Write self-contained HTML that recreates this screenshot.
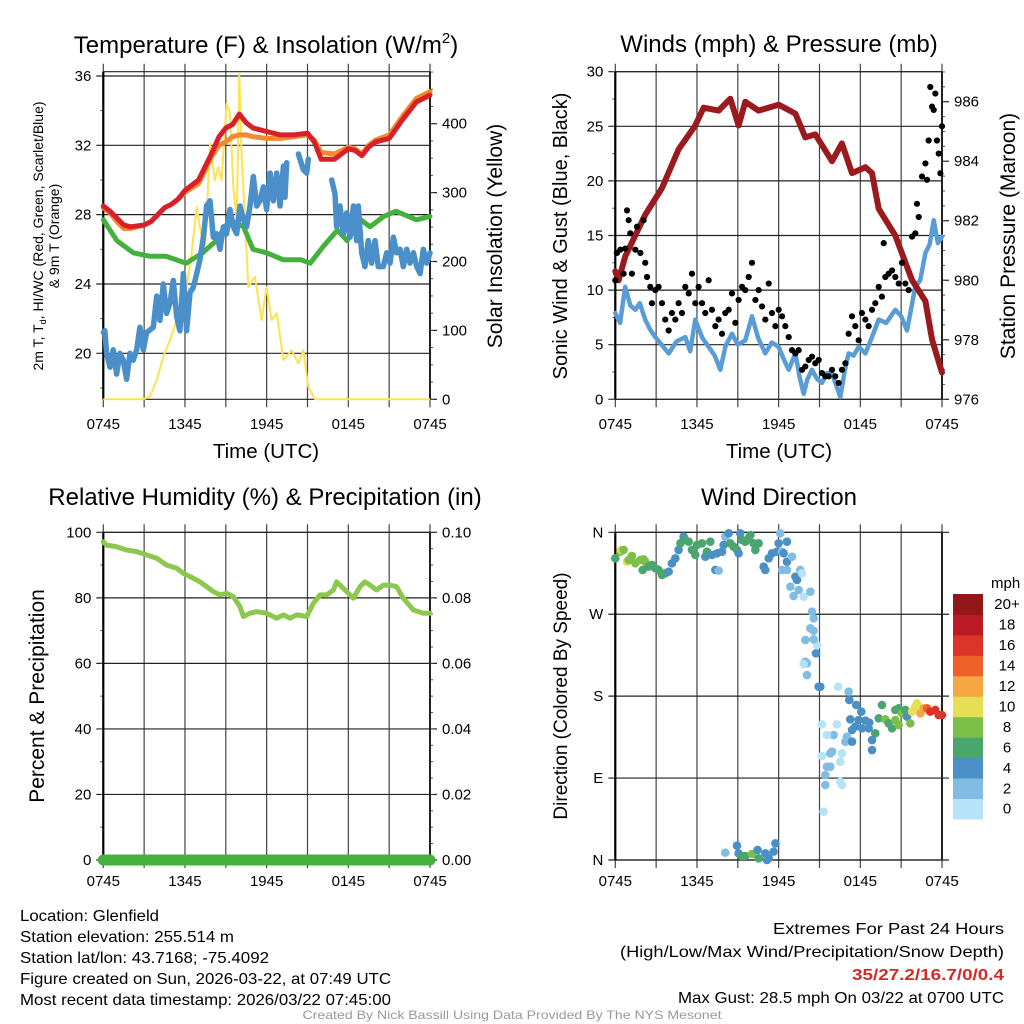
<!DOCTYPE html>
<html><head><meta charset="utf-8"><title>Mesonet Station Meteogram</title>
<style>html,body{margin:0;padding:0;background:#fff;}svg{display:block;font-family:"Liberation Sans",Arial,sans-serif;}</style>
</head><body>
<svg id="chart" width="1024" height="1024" viewBox="0 0 1024 1024" xmlns="http://www.w3.org/2000/svg">
<rect x="0" y="0" width="1024" height="1024" fill="#fff"/>
<text x="266" y="53" font-size="24" text-anchor="middle">Temperature (F) &amp; Insolation (W/m<tspan font-size="15" dy="-10">2</tspan><tspan dy="10">)</tspan></text>
<text x="779" y="52" font-size="24" text-anchor="middle">Winds (mph) &amp; Pressure (mb)</text>
<text x="265" y="505" font-size="24" text-anchor="middle">Relative Humidity (%) &amp; Precipitation (in)</text>
<text x="779" y="505" font-size="24" text-anchor="middle">Wind Direction</text>
<text x="266" y="458" font-size="20.5" text-anchor="middle">Time (UTC)</text>
<text x="779" y="458" font-size="20.5" text-anchor="middle">Time (UTC)</text>
<text transform="translate(43,236) rotate(-90)" font-size="14" text-anchor="middle">2m T, T<tspan font-size="9" dy="3">d</tspan><tspan dy="-3">, HI/WC (Red, Green, Scarlet/Blue)</tspan></text>
<text transform="translate(59,236) rotate(-90)" font-size="14" text-anchor="middle">&amp; 9m T (Orange)</text>
<text transform="translate(502,236) rotate(-90)" font-size="21" text-anchor="middle">Solar Insolation (Yellow)</text>
<text transform="translate(567,236) rotate(-90)" font-size="20" text-anchor="middle">Sonic Wind &amp; Gust (Blue, Black)</text>
<text transform="translate(1015,236) rotate(-90)" font-size="21" text-anchor="middle">Station Pressure (Maroon)</text>
<text transform="translate(44,696) rotate(-90)" font-size="21" text-anchor="middle">Percent &amp; Precipitation</text>
<text transform="translate(567,696) rotate(-90)" font-size="19" text-anchor="middle">Direction (Colored By Speed)</text>
<g font-size="16">
<text x="20" y="921" textLength="139" lengthAdjust="spacingAndGlyphs">Location: Glenfield</text>
<text x="20" y="942" textLength="214" lengthAdjust="spacingAndGlyphs">Station elevation: 255.514 m</text>
<text x="20" y="963" textLength="249" lengthAdjust="spacingAndGlyphs">Station lat/lon: 43.7168; -75.4092</text>
<text x="20" y="984" textLength="371" lengthAdjust="spacingAndGlyphs">Figure created on Sun, 2026-03-22, at 07:49 UTC</text>
<text x="20" y="1005" textLength="371" lengthAdjust="spacingAndGlyphs">Most recent data timestamp: 2026/03/22 07:45:00</text>
</g>
<g font-size="16" text-anchor="end">
<text x="1004" y="934" textLength="231" lengthAdjust="spacingAndGlyphs">Extremes For Past 24 Hours</text>
<text x="1004" y="957" textLength="384" lengthAdjust="spacingAndGlyphs">(High/Low/Max Wind/Precipitation/Snow Depth)</text>
<text x="1004" y="980" textLength="152" lengthAdjust="spacingAndGlyphs" font-weight="bold" fill="#d42a2a">35/27.2/16.7/0/0.4</text>
<text x="1004" y="1003" textLength="326" lengthAdjust="spacingAndGlyphs">Max Gust: 28.5 mph On 03/22 at 0700 UTC</text>
</g>
<text x="512" y="1019" font-size="12" fill="#999" text-anchor="middle" textLength="419" lengthAdjust="spacingAndGlyphs">Created By Nick Bassill Using Data Provided By The NYS Mesonet</text>
</svg>
<script>
// ---- shared axis data ----
const timeTickHours = [0, 6, 12, 18, 24];
const timeTickLabels = ["0745", "1345", "1945", "0145", "0745"];
const timeGridHours = [0, 3, 6, 9, 12, 15, 18, 21, 24];

// ---- panel 1: temperature & insolation ----
const tempTicks = [20, 24, 28, 32, 36];
const solarTicks = [0, 100, 200, 300, 400];
const redHours = [0,0.5,1,1.5,2,3,3.5,4,4.5,5,5.5,6,7,7.5,8,8.5,9,9.5,10,10.5,11,12,13,14,15,15.5,16,17,18,18.5,19,19.5,20,21,22,23,24];
const redTemp = [28.5,28.2,27.8,27.4,27.3,27.4,27.6,28.0,28.4,28.6,28.9,29.4,30.0,30.8,31.6,32.5,33.0,33.2,33.8,33.3,33.0,32.8,32.6,32.6,32.7,32.2,31.2,31.2,31.8,31.7,31.4,31.9,32.2,32.4,33.5,34.5,34.9];
const orangeTemp = [28.4,28.1,27.6,27.2,27.2,27.4,27.6,28.0,28.4,28.6,28.9,29.3,29.8,30.6,31.4,32.0,32.2,32.5,32.6,32.6,32.5,32.4,32.4,32.5,32.6,32.3,31.6,31.5,31.9,31.8,31.5,32.0,32.3,32.6,33.7,34.7,35.1];
const greenHours = [0,1,2.2,3.4,4.6,6.1,7.3,8.3,9.3,10.3,11,12,13.2,14.5,15.2,16.2,17.2,17.9,18.9,19.6,20.6,21.5,23,24];
const greenTemp = [27.7,26.5,25.8,25.6,25.6,25.2,25.8,26.5,27.7,27.3,26.0,25.8,25.4,25.4,25.2,26.2,27.1,26.5,27.7,27.3,27.9,28.2,27.7,27.9];
const blueHours = [0,0.12,0.24,0.49,0.73,0.98,1.22,1.47,1.71,1.96,2.2,2.45,2.69,2.94,3.18,3.67,3.92,4.16,4.41,4.65,4.9,5.14,5.39,5.63,5.88,6.12,6.37,6.61,6.86,7.1,7.35,7.59,7.84,8.08,8.33,8.57,8.82,9.06,9.31,9.55,9.8,10.04,10.29,10.53,10.78,11.02,11.27,11.51,11.76,12.0,12.25,12.49,12.74,12.98,13.23,13.35,13.47,13.8,14.33,14.69,14.94,15.06,15.5,16.78,17.02,17.14,17.39,17.63,17.88,18.12,18.37,18.61,18.73,18.98,19.22,19.47,19.71,19.96,20.2,20.57,20.82,21.06,21.31,21.55,21.8,22.04,22.29,22.53,22.78,23.02,23.27,23.51,23.76,24];
const blueTemp = [21.2,21.3,20.0,19.2,20.2,18.8,20.0,19.6,18.5,20.0,19.6,20.2,21.5,20.2,21.2,21.5,23.3,21.9,24.0,22.3,22.9,24.2,22.1,21.3,24.6,21.3,23.5,23.8,24.6,25.4,26.7,28.5,28.8,26.7,26.9,26.0,27.3,26.9,28.3,27.3,26.9,28.5,27.7,27.3,28.5,30.2,28.5,28.8,29.6,28.3,30.4,28.8,30.4,28.5,30.8,29.0,31.0,NaN,31.5,30.6,30.4,31.2,NaN,30.0,29.2,27.3,28.5,26.9,28.1,26.7,28.5,26.5,28.5,25.8,25.0,26.5,25.2,26.5,25.0,25.0,25.8,25.2,26.7,25.8,26.0,25.0,26.0,25.2,25.8,25.0,24.6,26.0,25.2,25.8];
const solarHours = [0,2.94,3.43,3.92,4.41,4.9,5.39,6.0,6.49,6.86,7.1,7.47,7.84,8.2,8.45,8.69,9.06,9.31,9.55,9.8,9.99,10.16,10.41,10.65,11.14,11.63,12.0,12.37,12.74,13.23,13.84,14.33,14.69,15.06,15.55,24];
const solarWm2 = [0,0,4,28,62,86,115,149,212,279,250,212,371,318,337,318,429,414,308,260,472,356,260,163,178,115,163,115,125,57,71,52,71,18,0,0];

// ---- panel 2: winds & pressure ----
const windTicks = [0, 5, 10, 15, 20, 25, 30];
const pressureTicks = [976, 978, 980, 982, 984, 986];
const pressureHours = [0,0.24,0.73,2.2,3.43,4.65,5.88,6.49,7.59,8.45,9.06,9.55,10.53,12.0,13.23,13.96,14.69,15.92,16.65,17.39,18.37,18.86,19.35,20.57,21.8,22.78,23.27,24];
const pressureMb = [980.3,980.0,980.8,982.2,983.1,984.4,985.2,985.8,985.7,986.1,985.2,986.0,985.7,985.9,985.6,984.8,984.9,984.0,984.6,983.6,983.8,983.6,982.4,981.5,980.0,979.3,978.0,976.9];
const windHours = [0,0.35,0.73,1.1,1.47,1.8,2.2,2.55,2.94,3.4,3.92,4.5,5.14,5.5,5.88,6.4,6.86,7.3,7.71,8.1,8.57,9.0,9.55,10.04,10.5,11.02,11.5,12.0,12.4,12.74,13.23,13.55,13.84,14.1,14.45,14.8,15.18,15.55,15.92,16.25,16.53,16.85,17.14,17.5,17.88,18.37,18.86,19.35,19.9,20.57,21.0,21.43,22.04,22.4,22.78,23.1,23.39,23.7,24];
const windMph = [7.9,7.0,10.3,8.6,8.2,8.8,7.3,6.4,5.7,5.0,4.2,5.3,5.7,4.4,7.3,5.6,4.8,4.0,2.7,4.9,6.0,5.0,5.4,7.6,5.6,4.2,5.2,4.8,3.6,2.7,4.2,2.0,0.5,1.8,2.7,1.9,1.5,2.4,2.4,1.2,0.2,2.6,4.2,4.0,4.8,4.2,5.7,7.3,7.0,8.2,7.6,6.3,10.3,10.9,13.4,14.2,16.4,14.3,14.9];
const gustHours = [0,0.12,0.37,0.61,0.73,0.86,0.98,1.1,1.22,1.47,1.59,1.84,2.08,2.2,2.33,2.57,2.69,2.94,3.18,3.43,3.67,3.92,4.16,4.41,4.65,4.9,5.14,5.39,5.63,5.88,6.12,6.37,6.61,6.86,7.1,7.35,7.59,7.84,8.08,8.33,8.57,8.82,9.06,9.31,9.55,9.8,10.04,10.29,10.53,10.78,11.02,11.27,11.51,11.76,12.0,12.25,12.49,12.74,12.98,13.23,13.47,13.72,13.96,14.21,14.45,14.69,14.94,15.18,15.43,15.67,15.92,16.16,16.41,16.65,16.9,17.14,17.39,17.63,17.88,18.12,18.37,18.61,18.86,19.1,19.35,19.59,19.72,19.84,20.08,20.33,20.57,20.82,21.06,21.31,21.55,21.8,22.04,22.16,22.29,22.53,22.78,22.9,23.02,23.14,23.27,23.39,23.51,23.63,23.76,23.88,24];
const gustMph = [10.9,13.4,13.7,11.5,13.8,17.3,16.4,15.2,11.5,13.7,15.8,13.4,16.4,12.5,11.2,10.3,8.8,10.0,10.3,8.8,7.3,6.3,7.9,7.3,8.8,7.9,10.3,9.7,11.5,8.8,10.3,8.8,7.9,10.9,8.2,6.7,7.3,6.0,7.9,8.2,9.7,7.0,9.1,10.3,10.0,11.2,12.5,9.1,10.0,8.5,7.3,10.6,7.9,6.7,8.2,7.6,6.7,5.7,4.5,4.2,4.5,2.7,3.0,3.6,3.9,3.3,3.6,2.4,2.1,2.1,2.7,2.1,1.5,2.7,3.3,6.0,7.6,6.7,5.4,7.9,7.3,6.7,8.2,8.8,10.3,9.4,14.3,11.2,11.5,11.8,11.2,10.6,12.5,10.6,10.0,14.9,15.2,17.9,16.7,20.4,21.6,20.1,23.7,28.6,26.8,26.5,28.0,23.7,22.5,20.7,25.0];

// ---- panel 3: humidity & precipitation ----
const rhTicks = [0, 20, 40, 60, 80, 100];
const precipTicks = ["0.00", "0.02", "0.04", "0.06", "0.08", "0.10"];
const rhHours = [0,0.24,0.98,1.71,2.45,3.18,3.92,4.65,5.39,5.88,6.37,7.1,7.59,8.08,8.57,9.06,9.55,10.04,10.29,10.78,11.27,12.0,12.74,13.23,13.72,14.21,14.94,15.43,15.92,16.41,16.9,17.14,17.63,18.12,18.37,18.86,19.22,19.59,20.08,20.57,21.06,21.55,22.04,22.78,23.51,24];
const rhPct = [97.1,96.1,95.6,94.6,94.1,93.1,92.1,90.0,89.0,87.5,86.5,84.9,83.4,81.9,80.9,81.4,80.4,77.3,74.3,75.3,75.8,75.3,73.8,74.8,73.8,74.8,74.3,78.3,80.9,80.9,82.4,84.9,82.9,80.9,79.9,83.4,84.9,83.9,82.4,83.9,83.9,83.4,79.9,76.3,75.3,75.3];
const precipHours = [0, 24];
const precipIn = [0, 0];

// ---- panel 4: wind direction ----
const dirTickDeg = [0, 90, 180, 270, 360];
const dirTickLabels = ["N", "E", "S", "W", "N"];
const dirHours = [0,0.37,0.44,0.61,0.86,0.98,1.22,1.47,1.84,2.08,2.2,2.01,2.45,2.69,2.94,3.18,3.43,3.67,3.92,4.16,4.41,4.65,4.78,5.02,5.14,5.39,5.63,5.88,6.0,6.37,6.61,6.73,6.98,7.1,7.35,7.59,7.47,7.84,7.96,8.08,8.33,8.45,8.69,8.94,9.06,9.18,9.31,9.55,9.8,9.92,10.16,10.29,10.53,10.9,11.02,11.27,11.51,11.88,12.0,12.12,12.25,12.37,12.61,12.61,12.25,12.61,12.98,13.23,13.35,13.59,13.72,12.86,13.1,13.47,13.84,14.33,14.45,14.57,14.33,14.57,14.82,13.96,14.57,14.74,13.96,14.08,13.84,14.08,14.94,15.06,16.36,17.14,17.19,17.7,18.07,17.26,17.88,18.37,18.66,17.63,18.12,18.61,17.39,17.02,16.9,17.39,18.86,18.86,19.1,19.35,19.59,19.84,20.08,20.33,20.57,20.82,20.57,20.82,21.06,21.31,21.43,21.67,21.8,22.04,22.16,22.41,22.65,22.9,23.14,23.51,23.76,24,15.18,16.28,16.04,15.55,15.18,15.79,15.92,16.65,16.53,15.55,15.79,15.43,15.43,16.53,16.65,15.3,8.08,8.94,9.06,9.31,9.55,10.04,10.45,10.53,11.02,11.27,11.63,11.76,11.14];
const dirDeg = [331.4,338.7,340.6,340.6,327.7,329.6,334.0,325.9,329.6,330.3,327.7,318.6,322.3,324.1,320.4,318.6,313.1,314.9,316.8,325.9,331.4,340.6,347.9,355.2,351.6,349.7,340.6,335.1,346.1,347.9,333.2,338.7,349.7,335.1,318.6,317.9,336.9,338.7,346.1,355.2,358.9,347.9,344.2,340.6,336.9,358.9,351.6,349.7,353.4,357.0,347.9,340.6,347.9,322.3,318.6,331.4,336.9,338.7,347.9,358.9,338.7,336.9,349.7,327.7,318.6,318.6,333.2,311.3,307.6,318.6,314.9,300.3,290.0,296.6,289.3,294.8,272.8,265.5,254.5,251.9,236.2,241.7,242.4,227.0,217.9,216.1,215.3,203.2,190.4,190.4,190.4,184.9,175.8,170.3,163.0,154.5,153.8,153.1,150.9,146.5,144.6,144.6,142.8,135.5,130.0,130.0,131.8,120.8,139.2,155.6,170.3,154.5,150.1,144.6,153.8,148.3,164.8,166.6,161.1,164.8,157.5,150.1,163.0,168.5,172.1,161.1,166.6,166.6,163.0,164.8,159.3,159.3,149.0,149.0,137.3,137.3,114.3,117.2,119.0,117.2,108.0,102.5,102.5,93.4,82.4,86.1,82.4,53.1,8.1,15.7,7.3,4.4,4.4,6.6,11.0,1.8,7.3,1.8,9.2,18.3,0];
const dirSpeed = [7,9,10.5,9,10.5,9,9,9,9,9,9,7,7,7,7,7,7,7,5,5,5,5,7,5,7,7,7,7,7,7,5,7,7,5,5,3,5,5,5,3,5,7,7,7,5,5,7,7,7,7,7,7,7,5,5,5,5,5,5,3,3,5,5,5,3,3,3,5,5,3,1,3,3,3,1,3,3,3,3,3,1,3,3,5,3,3,1,3,5,5,1,3,5,5,5,5,5,5,5,5,5,5,5,3,3,5,5,5,7,7,7,9,7,7,9,9,7,7,9,7,5,9,11,11,11,13,13,15,17,17,17,17,1,1,3,1,1,3,3,1,1,3,3,3,3,1,1,1,3,5,5,7,7,9,5,7,5,5,5,5,5];
const speedBinLabels = ["0", "2", "4", "6", "8", "10", "12", "14", "16", "18", "20+"];
const speedColors = ["#b5e3f8", "#80bce4", "#4a8fc5", "#4aa56f", "#7cc04a", "#e6de55", "#f6a543", "#ee6128", "#dd3429", "#bb1b25", "#931719"];

// ---- helpers ----
const NS = "http://www.w3.org/2000/svg";
const svg = document.getElementById("chart");
function mk(tag, attrs, parent) {
  const e = document.createElementNS(NS, tag);
  for (const k in attrs) e.setAttribute(k, attrs[k]);
  (parent || svg).appendChild(e);
  return e;
}
function linScale(d0, d1, r0, r1) { return v => r0 + (v - d0) * (r1 - r0) / (d1 - d0); }
function pathFrom(xs, ys, sx, sy) {
  let d = "", pen = false;
  for (let i = 0; i < xs.length; i++) {
    if (isNaN(ys[i])) { pen = false; continue; }
    d += (pen ? "L" : "M") + sx(xs[i]).toFixed(1) + "," + sy(ys[i]).toFixed(1);
    pen = true;
  }
  return d;
}

function frame(name, L, R, T, B, sx, leftTicks, leftLabels, sl, leftMinor, rightTicks, rightLabels, sr, rightMinor, xlabelY) {
  const g = mk("g", {});
  
  
  timeGridHours.forEach(h => {
    const x = sx(h);
    const ln = mk("line", {x1: x, x2: x, y1: T - 8, y2: B + 8, stroke: "#444", "stroke-width": 1.2}, g);
    
    
  });
  leftTicks.forEach((v, i) => {
    const y = sl(v);
    const ln = mk("line", {x1: L - 7, x2: R + (rightTicks ? 0 : 7), y1: y, y2: y, stroke: "#222", "stroke-width": 1.2}, g);
    
    
    const t = mk("text", {x: L - 12, y: y + 5, "font-size": 15, "text-anchor": "end"}, g);
    t.textContent = leftLabels[i];
    
    
  });
  leftMinor.forEach(v => {
    const y = sl(v);
    mk("line", {x1: L - 3, x2: L, y1: y, y2: y, stroke: "#555", "stroke-width": 1}, g);
  });
  if (rightTicks) {
    rightTicks.forEach((v, i) => {
      const y = sr(v);
      mk("line", {x1: R, x2: R + 7, y1: y, y2: y, stroke: "#222", "stroke-width": 1.2}, g);
      const t = mk("text", {x: R + 12, y: y + 5, "font-size": 15}, g);
      t.textContent = rightLabels[i];
      
      
    });
    rightMinor.forEach(v => {
      const y = sr(v);
      mk("line", {x1: R, x2: R + 3, y1: y, y2: y, stroke: "#555", "stroke-width": 1}, g);
    });
  }
  timeTickHours.forEach((h, i) => {
    const t = mk("text", {x: sx(h), y: xlabelY, "font-size": 15, "text-anchor": "middle"}, g);
    t.textContent = timeTickLabels[i];
    
    
  });
  mk("line", {x1: L, x2: R, y1: T, y2: T, stroke: "#222", "stroke-width": 1.2}, g);
  mk("line", {x1: L, x2: R, y1: B, y2: B, stroke: "#222", "stroke-width": 1.2}, g);
  mk("line", {x1: L, x2: L, y1: T, y2: B, stroke: "#000", "stroke-width": 2.2}, g);
  mk("line", {x1: R, x2: R, y1: T, y2: B, stroke: "#222", "stroke-width": 2}, g);
}
function range(a, b, s) { const r = []; for (let v = a; v <= b + 1e-9; v += s) r.push(+v.toFixed(4)); return r; }

// ---- Panel 1 ----
{
  const sx = linScale(0, 24, 103.3, 430);
  const sl = linScale(20, 36, 353.3, 76);
  const sr = linScale(0, 400, 399.3, 123.7);
  frame("temperature", 103.3, 430, 71.7, 399.3, sx, tempTicks, tempTicks.map(String), sl, range(18, 36, 2),
        solarTicks, solarTicks.map(String), sr, range(0, 475, 25), 429);
  const s1 = mk("path", {d: pathFrom(solarHours, solarWm2, sx, sr), fill: "none", stroke: "#fde34f", "stroke-width": 2, "stroke-linejoin": "round"});
  
  
  const s2 = mk("path", {d: pathFrom(greenHours, greenTemp, sx, sl), fill: "none", stroke: "#45b13d", "stroke-width": 5, "stroke-linejoin": "round", "stroke-linecap": "round"});
  
  
  const s3 = mk("path", {d: pathFrom(blueHours, blueTemp, sx, sl), fill: "none", stroke: "#4a8fc9", "stroke-width": 5.5, "stroke-linejoin": "round", "stroke-linecap": "round"});
  
  
  const s4 = mk("path", {d: pathFrom(redHours, orangeTemp, sx, sl), fill: "none", stroke: "#f5892b", "stroke-width": 5, "stroke-linejoin": "round", "stroke-linecap": "round"});
  
  
  const s5 = mk("path", {d: pathFrom(redHours, redTemp, sx, sl), fill: "none", stroke: "#d8202a", "stroke-width": 5, "stroke-linejoin": "round", "stroke-linecap": "round"});
  
  
}

// ---- Panel 2 ----
{
  const sx = linScale(0, 24, 615.3, 942);
  const sl = linScale(0, 30, 399.3, 71.7);
  const sr = linScale(976, 986, 399.3, 101.7);
  frame("winds", 615.3, 942, 71.7, 399.3, sx, windTicks, windTicks.map(String), sl, range(0, 30, 2.5),
        pressureTicks, pressureTicks.map(String), sr, range(976, 987, 0.5), 429);
  const w = mk("path", {d: pathFrom(windHours, windMph, sx, sl), fill: "none", stroke: "#5a9dd6", "stroke-width": 4.5, "stroke-linejoin": "round", "stroke-linecap": "round"});
  
  
  const p = mk("path", {d: pathFrom(pressureHours, pressureMb, sx, sr), fill: "none", stroke: "#9a1a1e", "stroke-width": 6, "stroke-linejoin": "round", "stroke-linecap": "round"});
  
  
  const gg = mk("g", {});
  
  
  gustHours.forEach((h, i) => {
    const c = mk("circle", {cx: sx(h), cy: sl(gustMph[i]), r: 3.1, fill: "#000"}, gg);
    
    
  });
}

// ---- Panel 3 ----
{
  const sx = linScale(0, 24, 103.3, 430);
  const sl = linScale(0, 100, 860, 532.3);
  frame("humidity", 103.3, 430, 532.3, 860, sx, rhTicks, rhTicks.map(String), sl, range(0, 100, 10),
        rhTicks, precipTicks, sl, range(0, 100, 5), 886);
  const rh = mk("path", {d: pathFrom(rhHours, rhPct, sx, sl), fill: "none", stroke: "#8cc84d", "stroke-width": 5, "stroke-linejoin": "round", "stroke-linecap": "round"});
  
  
  const sp = linScale(0, 0.1, 860, 532.3);
  const pr = mk("path", {d: pathFrom(precipHours, precipIn, sx, sp), fill: "none", stroke: "#45b13d", "stroke-width": 11, "stroke-linecap": "round"});
  
  
}

// ---- Panel 4 ----
{
  const sx = linScale(0, 24, 615.3, 942);
  const sl = linScale(0, 360, 860, 532.3);
  frame("direction", 615.3, 942, 532.3, 860, sx, dirTickDeg, dirTickLabels, sl, [], null, null, null, null, 886);
  const gd = mk("g", {});
  
  
  dirHours.forEach((h, i) => {
    const bin = Math.min(10, Math.floor(dirSpeed[i] / 2));
    const c = mk("circle", {cx: sx(h), cy: sl(dirDeg[i]), r: 4.3, fill: speedColors[bin]}, gd);
    
    
  });
  const cb = mk("g", {});
  
  
  const top = 594, bh = 20.45;
  speedBinLabels.forEach((lab, i) => {
    const y = top + (10 - i) * bh;
    const r = mk("rect", {x: 953, y: y, width: 30, height: bh + 0.5, fill: speedColors[i]}, cb);
    
    
    const t = mk("text", {x: 1007, y: y + bh / 2 + 5, "font-size": 15, "text-anchor": "middle"}, cb);
    t.textContent = lab;
    
    
  });
  const u = mk("text", {x: 991, y: 588, "font-size": 15}, cb);
  u.textContent = "mph";
  
  
}
</script>
</body></html>
